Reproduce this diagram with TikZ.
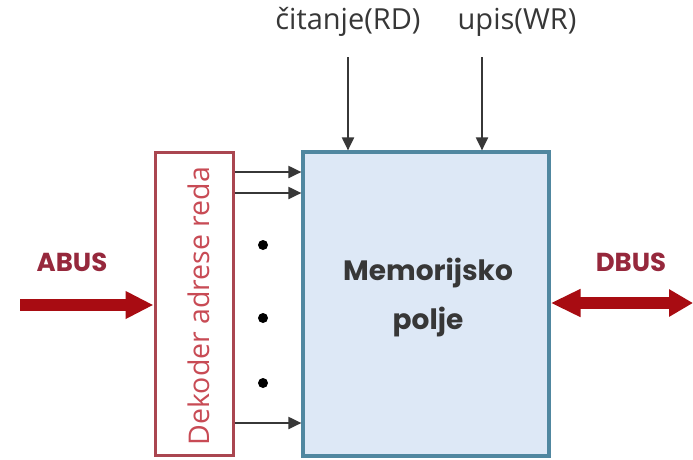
\documentclass[tikz,border=0pt]{standalone}
\usepackage{fontspec}
\setmainfont{Open Sans}
\newfontfamily\geo{Poppins}
\usetikzlibrary{arrows.meta}
\definecolor{decred}{RGB}{170,70,80}
\definecolor{dectext}{RGB}{200,75,85}
\definecolor{memborder}{RGB}{80,135,160}
\definecolor{memfill}{RGB}{221,232,246}
\definecolor{busred}{RGB}{168,12,18}
\definecolor{bustext}{RGB}{150,40,60}
\definecolor{labgray}{RGB}{55,55,55}
\begin{document}
\begin{tikzpicture}[x=1pt,y=-1pt,
  decbox/.style={draw=decred,line width=3pt,minimum width=78pt,minimum height=303pt,inner sep=0pt},
  membox/.style={draw=memborder,fill=memfill,line width=3.2pt,minimum width=246pt,minimum height=304pt,inner sep=0pt},
  sig/.style={draw=labgray,line width=2pt,-{Triangle[length=13pt,width=12pt]}},
  bus/.style={draw=busred,line width=12pt},
  toplabel/.style={text=labgray,font=\fontsize{29}{32}\selectfont,inner sep=0pt},
  buslabel/.style={text=bustext,font=\geo\bfseries\fontsize{26}{30}\selectfont,inner sep=0pt},
  dot/.style={fill=black}]
\useasboundingbox (0,0) rectangle (693,459);
\fill[white] (0,0) rectangle (693,459);
% boxes
\node[membox] (mem) at (426,304) {};
\node[decbox] (dec) at (194,303.5) {};
\node[text=dectext,rotate=90,inner sep=0pt,font=\fontsize{28.5}{32}\selectfont] (dectxt) at (199,306) {Dekoder adrese reda};
\node[text=labgray,align=center,inner sep=0pt,font=\geo\bfseries\fontsize{28}{49}\selectfont] (memtxt) at (428,298) {Memorijsko\\polje};
% decoder outputs
\draw[sig] (dec.east |- 0,172) -- (mem.west |- 0,172);
\draw[sig] (dec.east |- 0,193) -- (mem.west |- 0,193);
\draw[sig] (dec.east |- 0,423) -- (mem.west |- 0,423);
\fill[dot] (263,245) circle (5pt);
\fill[dot] (263,318) circle (5pt);
\fill[dot] (263,383) circle (5pt);
% control inputs
\node[toplabel] (rd) at (348,22) {čitanje(RD)};
\node[toplabel] (wr) at (517,22) {upis(WR)};
\coordinate (rdtop) at (348,57);
\coordinate (wrtop) at (482,57);
\draw[sig] (rdtop) -- (mem.north -| rdtop);
\draw[sig] (wrtop) -- (mem.north -| wrtop);
% buses
\node[buslabel] (abus) at (72,262) {ABUS};
\node[buslabel] (dbus) at (631,262) {DBUS};
\coordinate (abusstart) at (20,305);
\coordinate (dbusend) at (693,303);
\draw[bus,-{Triangle[length=28pt,width=26pt]}] (abusstart) -- (dec.west |- abusstart);
\draw[bus,{Triangle[length=30pt,width=26pt]}-{Triangle[length=24pt,width=26pt]}] (mem.east |- dbusend) -- (dbusend);
\end{tikzpicture}
\end{document}
